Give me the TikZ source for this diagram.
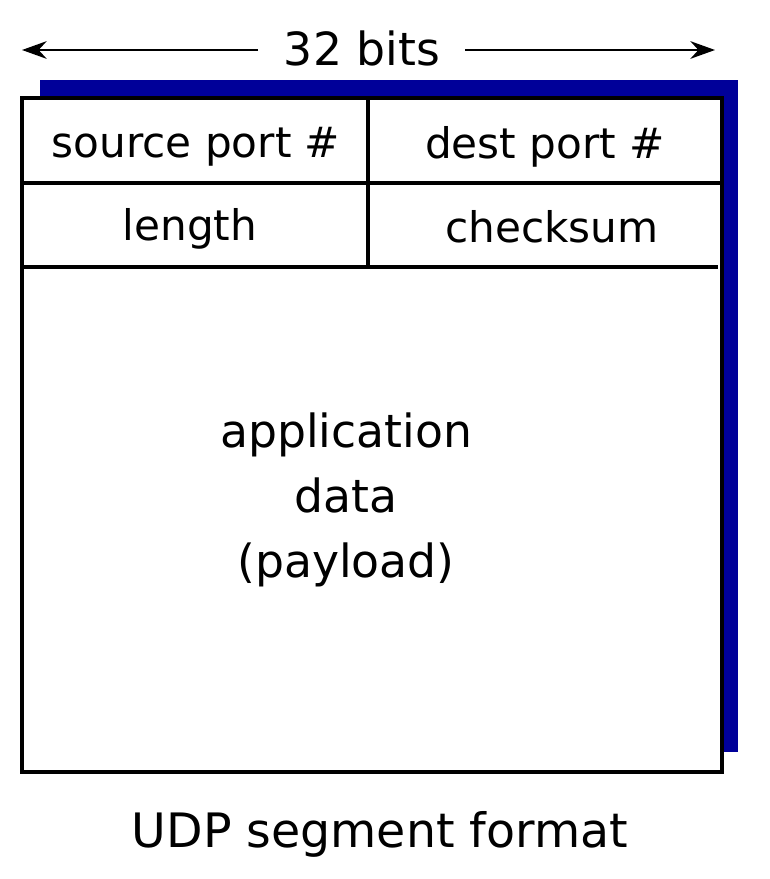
\documentclass[tikz,border=0pt]{standalone}
\usepackage{fontspec}
\setmainfont{DejaVu Sans}
\usetikzlibrary{arrows.meta}
\begin{document}
\begin{tikzpicture}[x=0.02cm,y=-0.02cm,
  field/.style={font=\fontsize{24}{28}\selectfont},
  ln/.style={line width=2.2pt}]
\useasboundingbox (0,0) rectangle (770,879);
\fill[fill={rgb,255:red,0;green,0;blue,153}] (40,80) rectangle (738,752);
\draw[ln,fill=white] (22,98) rectangle (722,772);
\draw[ln] (22,183) -- (720,183);
\draw[ln] (20,267) -- (718,267);
\draw[ln] (368,98) -- (368,267);
\node[field] (src) at (196,147) {source port \#};
\node[field] (dst) at (545,147) {dest port \#};
\node[field] (len) at (190,229) {length};
\node[field] (chk) at (552,227) {checksum};
\node[field,align=center,font=\fontsize{26}{37}\selectfont] (app) at (346,500) {application\\data\\(payload)};
\node[font=\fontsize{26}{30}\selectfont,inner sep=2pt] (bits) at (362,48) {32 bits};
\coordinate (la) at (22,50);
\coordinate (ra) at (715,50);
\draw[line width=1.6pt,-{Stealth[length=14pt,width=10pt]}] (258,50) -- (la);
\draw[line width=1.6pt,-{Stealth[length=14pt,width=10pt]}] (465,50) -- (ra);
\node[font=\fontsize{27}{32}\selectfont] (cap) at (380,834) {UDP segment format};
\end{tikzpicture}
\end{document}
